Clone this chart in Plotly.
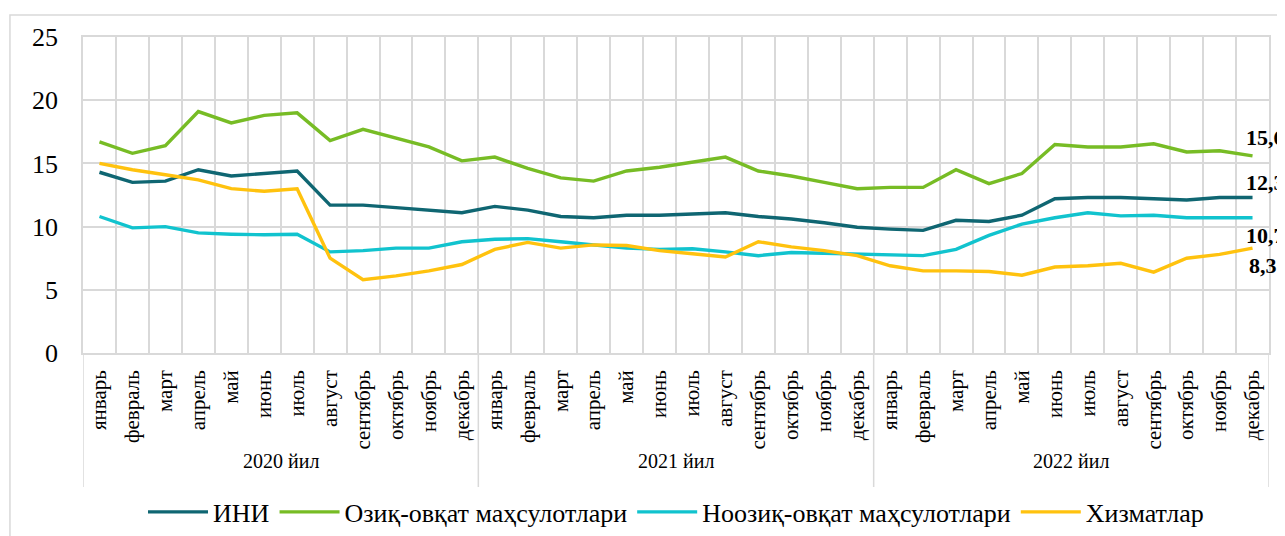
import plotly.graph_objects as go

months = ["январь", "февраль", "март", "апрель", "май", "июнь", "июль",
          "август", "сентябрь", "октябрь", "ноябрь", "декабрь"]
years = ["2020 йил", "2021 йил", "2022 йил"]

ini = [14.3, 13.5, 13.6, 14.5, 14.0, 14.2, 14.4, 11.7, 11.7, 11.5, 11.3, 11.1,
       11.6, 11.3, 10.8, 10.7, 10.9, 10.9, 11.0, 11.1, 10.8, 10.6, 10.3, 9.95,
       9.8, 9.7, 10.5, 10.4, 10.9, 12.2, 12.3, 12.3, 12.2, 12.1, 12.3, 12.3]
food = [16.7, 15.8, 16.4, 19.1, 18.2, 18.8, 19.0, 16.8, 17.7, 17.0, 16.3, 15.2,
        15.5, 14.6, 13.85, 13.6, 14.4, 14.7, 15.1, 15.5, 14.4, 14.0, 13.5, 13.0,
        13.1, 13.1, 14.5, 13.4, 14.2, 16.5, 16.3, 16.3, 16.55, 15.9, 16.0, 15.6]
nonfood = [10.8, 9.9, 10.0, 9.5, 9.4, 9.35, 9.4, 8.0, 8.1, 8.3, 8.3, 8.8,
           9.0, 9.05, 8.8, 8.55, 8.3, 8.2, 8.25, 8.0, 7.7, 7.95, 7.9, 7.8,
           7.8, 7.7, 8.2, 9.3, 10.2, 10.7, 11.1, 10.85, 10.9, 10.7, 10.7, 10.7]
services = [15.0, 14.5, 14.1, 13.7, 13.0, 12.8, 13.0, 7.5, 5.8, 6.1, 6.5, 7.0,
            8.2, 8.75, 8.3, 8.55, 8.5, 8.1, 7.85, 7.6, 8.8, 8.4, 8.1, 7.7,
            6.9, 6.5, 6.5, 6.45, 6.15, 6.8, 6.9, 7.1, 6.4, 7.5, 7.8, 8.3]

series = [
    ("ИНИ", ini, "#0F6672"),
    ("Озиқ-овқат маҳсулотлари", food, "#77BC25"),
    ("Ноозиқ-овқат маҳсулотлари", nonfood, "#11C3CE"),
    ("Хизматлар", services, "#FFC20E"),
]

n = len(years) * len(months)
xs = list(range(n))
labels = [m for _ in years for m in months]

SERIF = "Liberation Serif"
GRID = "#D9D9D9"

fig = go.Figure()
for name, vals, color in series:
    fig.add_trace(go.Scatter(x=xs, y=vals, name=name, mode="lines",
                             line=dict(color=color, width=3.4)))

# end-of-line value labels
label_shift = {"ИНИ": 15, "Озиқ-овқат маҳсулотлари": 18,
               "Ноозиқ-овқат маҳсулотлари": -18, "Хизматлар": -17}
label_x = {"ИНИ": -9, "Озиқ-овқат маҳсулотлари": -9,
           "Ноозиқ-овқат маҳсулотлари": -9, "Хизматлар": -6}
for name, vals, color in series:
    fig.add_annotation(x=xs[-1], y=vals[-1], xref="x", yref="y",
                       text=f"{vals[-1]:.1f}".replace(".", ","),
                       showarrow=False, xanchor="left", xshift=label_x[name],
                       yshift=label_shift[name],
                       font=dict(family=SERIF, size=22, color="black",
                                 weight="bold"))

# year labels and separators
for i, yname in enumerate(years):
    mid = i * len(months) + (len(months) - 1) / 2
    fig.add_annotation(x=mid, y=-0.383, xref="x", yref="paper", text=yname,
                       showarrow=False, font=dict(family=SERIF, size=20, color="black"))
for i in range(len(years) + 1):
    xb = i * len(months) - 0.5
    fig.add_shape(type="line", x0=xb, x1=xb, xref="x", yref="paper",
                  y0=0, y1=-0.424, line=dict(color=GRID, width=1.5))

# outer chart border
fig.add_shape(type="rect", xref="paper", yref="paper",
              x0=-0.0616, x1=1.03, y0=-0.62, y1=1.07,
              line=dict(color=GRID, width=1.5), fillcolor="rgba(0,0,0,0)", layer="below")

# page body has an 8px default margin: figure is sized/offset to compensate
fig.update_layout(
    width=1277, height=528,
    margin=dict(l=75, r=16, t=29, b=183, autoexpand=False),
    paper_bgcolor="white", plot_bgcolor="white",
    font=dict(family=SERIF, color="black"),
    showlegend=True,
    legend=dict(orientation="h", x=0.5, xanchor="center",
                yref="container", y=0.0455, yanchor="middle",
                font=dict(family=SERIF, size=26, color="black"),
                itemwidth=60, tracegroupgap=0),
    xaxis=dict(range=[-0.5, n - 0.5], tickmode="array", tickvals=xs, ticktext=labels,
               tickangle=-90, showgrid=False, zeroline=False, automargin=False,
               tickfont=dict(family=SERIF, size=21, color="black"),
               ticks="", ticklabelstandoff=7,
               showline=True, linecolor=GRID, linewidth=1.5, mirror=True,
               minor=dict(tickmode="linear", tick0=-0.5, dtick=1, showgrid=True,
                          gridcolor=GRID, gridwidth=1.5, ticks="")),
    yaxis=dict(range=[0, 25], tick0=0, dtick=5, showgrid=True, gridcolor=GRID,
               gridwidth=1.5, zeroline=False, automargin=False,
               showline=True, linecolor=GRID, linewidth=1.5, mirror=True,
               tickfont=dict(family=SERIF, size=26, color="black"),
               ticklabelstandoff=18),
)

fig.write_html("out.html")
